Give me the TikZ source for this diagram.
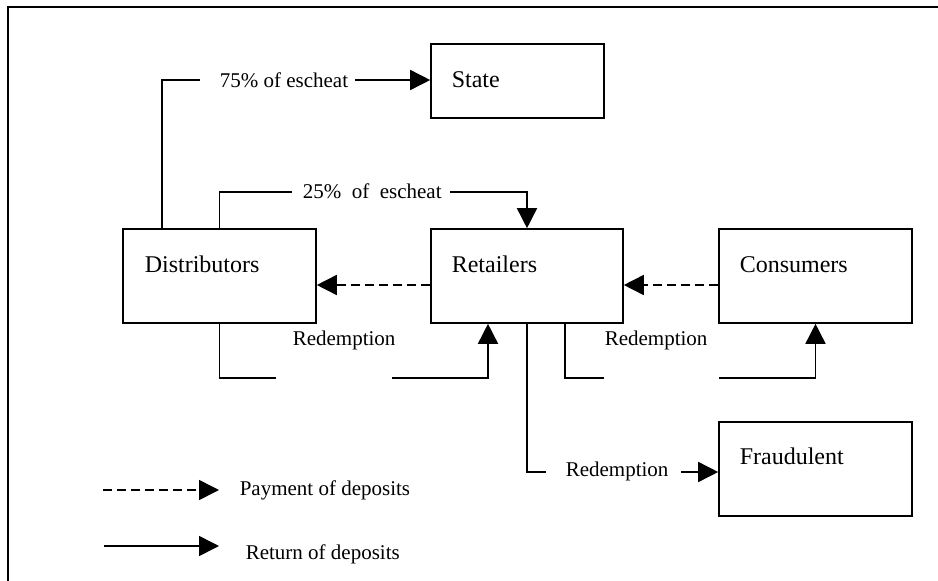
\documentclass[tikz,border=0pt]{standalone}
\usepackage{fontspec}
\setmainfont{Liberation Serif}
\usetikzlibrary{arrows.meta}
\begin{document}
\begin{tikzpicture}[x=1pt,y=-1pt,
  line width=1.6pt,
  box/.style={draw, rectangle, inner sep=0pt, minimum width=193pt, minimum height=94pt},
  boxtext/.style={anchor=base west, inner sep=0pt, font=\fontsize{24}{28}\selectfont},
  lbl/.style={anchor=base west, inner sep=0pt, font=\fontsize{21}{25}\selectfont},
  arr/.style={-{Triangle[length=20pt,width=20pt]}},
  dasharr/.style={arr, dash pattern=on 9pt off 5pt}]

% page area and outer frame
\clip (0,0) rectangle (938,581);
\fill[white] (0,0) rectangle (938,581);
\draw (8,7) rectangle (980,620);

% boxes
\node[box, minimum width=173pt, minimum height=74pt] (state) at (517.5,81) {};
\node[box] (dist) at (219.5,276) {};
\node[box, minimum width=192pt] (ret) at (527,276) {};
\node[box] (cons) at (815.5,276) {};
\node[box] (fraud) at (815.5,469) {};

\node[boxtext] (stateT) at (451,87) {State};
\node[boxtext] (distT) at (144,272) {Distributors};
\node[boxtext] (retT) at (451,272) {Retailers};
\node[boxtext] (consT) at (739,272) {Consumers};
\node[boxtext] (fraudT) at (739,464) {Fraudulent};

% gap ends of the labelled connectors
\coordinate (e75a) at (200,80);
\coordinate (e75b) at (355,80);
\coordinate (e25a) at (292,192);
\coordinate (e25b) at (450,192);
\coordinate (r1a) at (276,378);
\coordinate (r1b) at (392,378);
\coordinate (r2a) at (604,378);
\coordinate (r2b) at (719,378);
\coordinate (r3a) at (546,472);
\coordinate (r3b) at (681,472);

% escheat flows
\draw (dist.north -| 162,0) |- (e75a);
\node[lbl] (l75) at (219,87) {75\% of escheat};
\draw[arr] (e75b) -- (state.west |- e75b);

\draw (dist.north) |- (e25a);
\node[lbl] (l25) at (302,198) {25\%~~of~~escheat};
\draw[arr] (e25b) -| (ret.north);

% payment of deposits
\draw[dasharr] (ret.west |- 0,285) -- (dist.east |- 0,285);
\draw[dasharr] (cons.west |- 0,285) -- (ret.east |- 0,285);

% redemption flows
\draw (dist.south) |- (r1a);
\node[lbl] (lr1) at (292,345) {Redemption};
\draw[arr] (r1b) -| (ret.south -| 488,0);

\draw (ret.south -| 565,0) |- (r2a);
\node[lbl] (lr2) at (604,345) {Redemption};
\draw[arr] (r2b) -| (cons.south);

\draw (ret.south) |- (r3a);
\node[lbl] (lr3) at (565,476) {Redemption};
\draw[arr] (r3b) -- (fraud.west |- r3b);

% legend
\coordinate (k1a) at (103,490);
\coordinate (k1b) at (219,490);
\coordinate (k2a) at (104,546);
\coordinate (k2b) at (219,546);
\draw[dasharr] (k1a) -- (k1b);
\node[lbl] (kt1) at (239,495) {Payment of deposits};
\draw[arr] (k2a) -- (k2b);
\node[lbl] (kt2) at (245,559) {Return of deposits};
\end{tikzpicture}
\end{document}
